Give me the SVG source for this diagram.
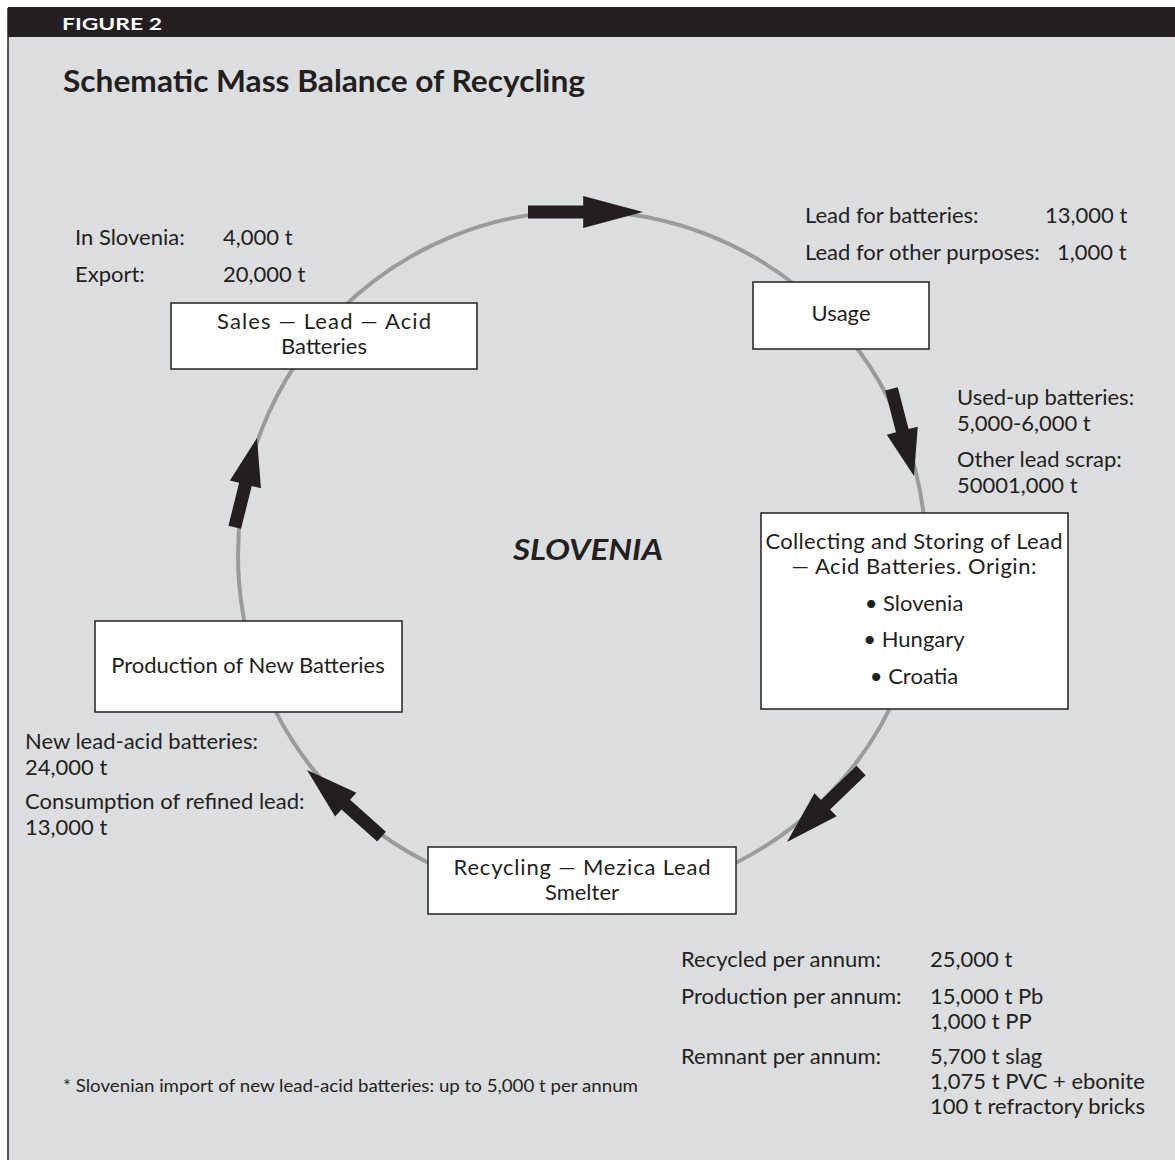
<svg xmlns="http://www.w3.org/2000/svg" width="1175" height="1160" viewBox="0 0 1175 1160">
<defs>
<style>
.t{font-family:Lato,"Open Sans","Liberation Sans",sans-serif;font-size:22px;fill:#231f20}
.c{text-anchor:middle}
.box{fill:#ffffff;stroke:#231f20;stroke-width:1.5}
.arr{fill:#231f20}
</style>
<polygon id="ar" points="-100,-6.5 -52,-6.5 -52,-16 0,0 -52,16 -52,6.5 -100,6.5"/>
</defs>
<rect x="0" y="0" width="1175" height="1160" fill="#ffffff"/>
<rect x="8" y="8" width="1167" height="1152" fill="#dcdddf"/>
<line x1="8" y1="8" x2="8" y2="1160" stroke="#231f20" stroke-width="1.5"/>
<rect x="8" y="7" width="1167" height="30" fill="#231f20"/>
<text x="62" y="30" textLength="100" lengthAdjust="spacingAndGlyphs" style="font-family:Lato,'Open Sans',sans-serif;font-size:17px;font-weight:bold;fill:#ffffff">FIGURE 2</text>
<text x="63" y="92" textLength="522" lengthAdjust="spacingAndGlyphs" style="font-family:Lato,'Open Sans',sans-serif;font-size:30px;font-weight:bold;fill:#231f20">Schematic Mass Balance of Recycling</text>

<g id="connectors">
<circle cx="582" cy="555" r="344" fill="none" stroke="#9a9b9d" stroke-width="4"/>
<g class="arr">
<use href="#ar" transform="translate(643,212) scale(1.15,1)"/>
<use href="#ar" transform="translate(914,476) rotate(75.5) scale(0.9,1)"/>
<use href="#ar" transform="translate(787,842) rotate(136) scale(1.03,1)"/>
<use href="#ar" transform="translate(307,770) rotate(221.8) scale(1.0,1)"/>
<use href="#ar" transform="translate(257,438) rotate(-76) scale(0.92,1)"/>
</g>
</g>

<g id="sales">
<rect class="box" x="171" y="303" width="306" height="66"/>
<text class="t c" x="324" y="329" textLength="214" lengthAdjust="spacing">Sales — Lead — Acid</text>
<text class="t c" x="324" y="354">Batteries</text>
</g>
<g id="usage">
<rect class="box" x="753" y="282" width="176" height="67"/>
<text class="t c" x="841" y="321">Usage</text>
</g>
<g id="collecting">
<rect class="box" x="761" y="513" width="307" height="196"/>
<text class="t c" x="914" y="549" textLength="297" lengthAdjust="spacing">Collecting and Storing of Lead</text>
<text class="t c" x="914" y="574" textLength="245" lengthAdjust="spacing">— Acid Batteries. Origin:</text>
<text class="t c" x="914" y="611">• Slovenia</text>
<text class="t c" x="914" y="647">• Hungary</text>
<text class="t c" x="914" y="684">• Croatia</text>
</g>
<g id="recycling">
<rect class="box" x="428" y="847" width="308" height="67"/>
<text class="t c" x="582" y="875" textLength="257" lengthAdjust="spacing">Recycling — Mezica Lead</text>
<text class="t c" x="582" y="900">Smelter</text>
</g>
<g id="production">
<rect class="box" x="95" y="621" width="307" height="91"/>
<text class="t c" x="248" y="673">Production of New Batteries</text>
</g>

<g id="labels">
<text class="t" x="75" y="245">In Slovenia:</text>
<text class="t" x="223" y="245">4,000 t</text>
<text class="t" x="75" y="282">Export:</text>
<text class="t" x="223" y="282">20,000 t</text>

<text class="t" x="805" y="223">Lead for batteries:</text>
<text class="t" x="1045" y="223">13,000 t</text>
<text class="t" x="805" y="260">Lead for other purposes:</text>
<text class="t" x="1057" y="260">1,000 t</text>

<text class="t" x="957" y="405">Used-up batteries:</text>
<text class="t" x="957" y="431">5,000-6,000 t</text>
<text class="t" x="957" y="467">Other lead scrap:</text>
<text class="t" x="957" y="493">50001,000 t</text>

<text x="588" y="560" textLength="150" lengthAdjust="spacingAndGlyphs" style="font-family:Lato,'Open Sans',sans-serif;font-size:28px;font-weight:bold;font-style:italic;fill:#231f20;text-anchor:middle">SLOVENIA</text>

<text class="t" x="25" y="749">New lead-acid batteries:</text>
<text class="t" x="25" y="775">24,000 t</text>
<text class="t" x="25" y="809">Consumption of refined lead:</text>
<text class="t" x="25" y="835">13,000 t</text>

<text class="t" x="681" y="967">Recycled per annum:</text>
<text class="t" x="930" y="967">25,000 t</text>
<text class="t" x="681" y="1004">Production per annum:</text>
<text class="t" x="930" y="1004">15,000 t Pb</text>
<text class="t" x="930" y="1029">1,000 t PP</text>
<text class="t" x="681" y="1064">Remnant per annum:</text>
<text class="t" x="930" y="1064">5,700 t slag</text>
<text class="t" x="930" y="1089">1,075 t PVC + ebonite</text>
<text class="t" x="930" y="1114">100 t refractory bricks</text>

<text x="63" y="1092" textLength="575" lengthAdjust="spacingAndGlyphs" style="font-family:Lato,'Open Sans',sans-serif;font-size:17px;fill:#231f20">* Slovenian import of new lead-acid batteries: up to 5,000 t per annum</text>
</g>
</svg>
